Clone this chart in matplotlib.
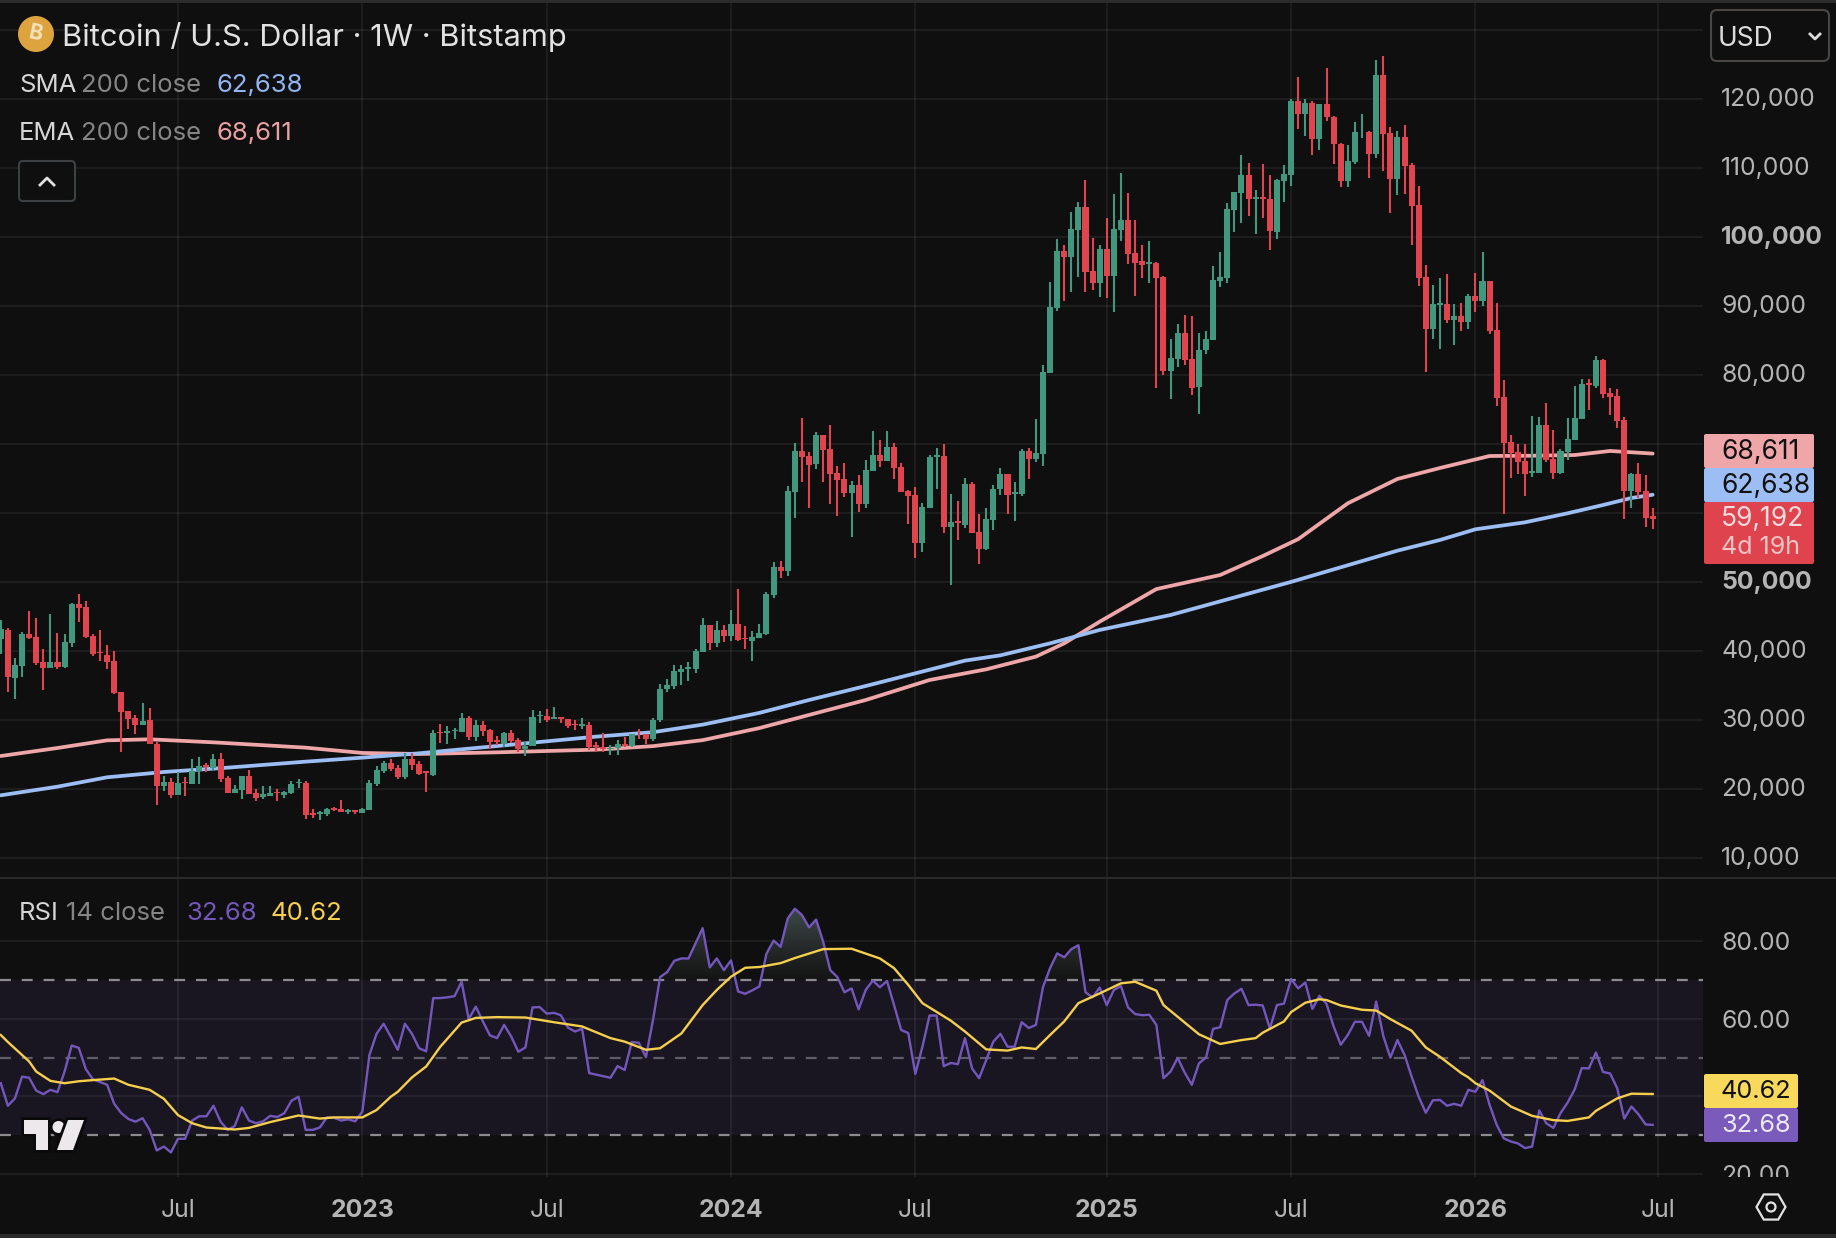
import numpy as np
import matplotlib
matplotlib.use('Agg')
import matplotlib.pyplot as plt
from matplotlib.colors import LinearSegmentedColormap
from matplotlib.patches import Circle, FancyBboxPatch, Polygon, Rectangle, RegularPolygon
from matplotlib.path import Path
from matplotlib.transforms import Bbox, ScaledTranslation
import matplotlib.patheffects as pe

plt.rcParams['font.family'] = ['Inter', 'DejaVu Sans']

# Weekly BTC/USD candles
opens = [
    41720, 43020, 36110, 37800, 42400, 42010, 38340, 37560, 38340, 37610,
    41190, 46790, 46360, 42150, 39830, 39400, 38530, 34030, 31280, 30260,
    29300, 29970, 26540, 20400, 20980, 19100, 20980, 20740, 22530, 23450,
    23010, 24320, 21560, 19430, 19820, 21850, 19340, 18850, 18950, 19530,
    19100, 19340, 20880, 20840, 16490, 16340, 16340, 17210, 17020, 16680,
    16870, 16530, 16920, 20690, 22620, 23740, 23010, 21710, 24320, 23590,
    22530, 22000, 28230, 28130, 28330, 28230, 30260, 27510, 29250, 28520,
    27070, 26490, 28090, 27070, 25770, 26200, 30500, 30550, 30120, 30410,
    30070, 29390, 29100, 29250, 26350, 26100, 25800, 25850, 26500, 26250,
    27950, 27900, 27150, 29970, 34470, 34900, 36980, 37420, 37370, 39880,
    43750, 41140, 43030, 42160, 43900, 41870, 41430, 41870, 42450, 48100,
    52160, 51580, 63040, 68980, 68260, 67100, 71300, 69270, 65790, 64920,
    62890, 64050, 61300, 66080, 68400, 67530, 69560, 66660, 63180, 62600,
    55640, 60720, 68110, 68260, 57960, 58780, 58250, 64200, 57240, 54770,
    58980, 63470, 65650, 62800, 62750, 68980, 67820, 68550, 80300, 89730,
    97990, 97120, 101040, 104370, 95090, 93350, 98280, 94370, 101040, 102490,
    97700, 96540, 96110, 96250, 94220, 80590, 82330, 86100, 82330, 78270,
    83630, 85080, 93640, 94080, 103940, 106400, 109010, 105530, 105820, 105530,
    100750, 108140, 109010, 119700, 117900, 119400, 114200, 119300, 117400, 113500,
    108140, 110900, 115300, 115300, 112060, 123510, 115100, 108430, 114520, 110460,
    104660, 94220, 86680, 90160, 90310, 87990, 88570, 87700, 91470, 90740,
    93640, 86540, 76820, 70290, 68840, 67530, 65790, 65790, 72760, 67820,
    65790, 68840, 70580, 73630, 78850, 78410, 82180, 77400, 76960, 73480,
    63180, 65650, 63180, 59560,
]
highs = [
    44470, 43360, 38920, 42730, 45730, 44760, 40220, 45340, 42540, 42400,
    46890, 48250, 47180, 42440, 42980, 40850, 39980, 34080, 31280, 30650,
    32440, 31660, 26730, 21850, 21560, 22380, 21710, 24320, 24610, 23690,
    25040, 25190, 21800, 20500, 21850, 22720, 19920, 20400, 20400, 19920,
    19720, 21130, 21370, 21130, 17070, 16820, 17210, 17310, 18370, 17110,
    16920, 17210, 21220, 23300, 24030, 24270, 23450, 25230, 25140, 24030,
    22580, 28520, 29340, 29100, 28760, 30990, 30550, 29970, 29830, 28670,
    27650, 28230, 28520, 27360, 26780, 31420, 31270, 31570, 31860, 30410,
    30120, 29970, 30260, 29630, 26730, 28100, 26400, 27000, 27500, 28000,
    28600, 28000, 30200, 35190, 35870, 37950, 37950, 38390, 40270, 44770,
    43750, 44330, 43750, 45930, 48970, 43600, 42880, 43900, 48540, 52890,
    53030, 63910, 70140, 73770, 68840, 71740, 71300, 72760, 66810, 67240,
    64630, 65500, 67680, 71880, 70580, 71880, 70140, 67240, 63330, 63760,
    61440, 68400, 69420, 70000, 62750, 61730, 65070, 64490, 59850, 60720,
    64050, 66520, 65650, 64490, 69270, 69420, 73630, 81460, 93500, 99730,
    98860, 103650, 105100, 108290, 99880, 98860, 102780, 106260, 109300, 106400,
    102490, 98860, 99440, 96400, 94370, 85230, 87400, 88710, 88570, 86100,
    86390, 95820, 97850, 104950, 106550, 111910, 110750, 106840, 110610, 109010,
    108430, 110460, 120000, 123200, 120000, 119700, 119300, 124500, 117600, 113700,
    113300, 116700, 117900, 115400, 125700, 126270, 115970, 115390, 116260, 110750,
    107420, 95960, 93060, 94080, 94660, 90310, 90450, 91760, 94800, 97850,
    93640, 90450, 79280, 71300, 70000, 70000, 74060, 73920, 75950, 72030,
    69280, 73770, 78410, 79430, 79430, 82760, 82330, 78120, 77980, 73920,
    65790, 67240, 65500, 60720,
]
lows = [
    39540, 34080, 33070, 36260, 41720, 37950, 34320, 37560, 37320, 37560,
    40560, 44180, 41910, 39300, 38530, 37420, 33740, 25380, 28720, 27990,
    29300, 26540, 17650, 19720, 18660, 19100, 19000, 20740, 20690, 22480,
    22720, 20980, 19390, 19430, 18560, 19240, 18270, 18560, 18950, 18270,
    18710, 19240, 20110, 15620, 15760, 15470, 16050, 16780, 16680, 16340,
    16340, 16530, 16920, 20450, 22340, 22620, 21420, 21420, 22720, 22000,
    19580, 21900, 26640, 26490, 27220, 28230, 27120, 26930, 27650, 25770,
    26300, 26060, 26640, 25330, 24800, 26200, 29540, 29680, 30120, 29540,
    28810, 28520, 28720, 25620, 25330, 25400, 24900, 24900, 26000, 26000,
    27200, 26550, 26950, 29730, 34040, 34470, 35050, 35630, 36790, 39880,
    40130, 40560, 41290, 41430, 41430, 40270, 38530, 41870, 42300, 47670,
    50570, 50860, 59270, 64490, 60720, 66370, 64490, 61300, 59560, 62310,
    56510, 60140, 60720, 66080, 66660, 67530, 64920, 63040, 58400, 53470,
    54340, 60720, 63470, 57090, 49550, 56080, 57820, 57090, 52600, 54630,
    57530, 62600, 59850, 58830, 62460, 64920, 67390, 66810, 80300, 89290,
    90740, 92050, 94220, 92050, 92340, 91320, 91180, 89150, 99440, 96110,
    91470, 94080, 93350, 78120, 80010, 76530, 81170, 81460, 77110, 74350,
    83050, 85080, 92770, 93350, 100750, 102050, 103070, 100460, 102780, 98140,
    99730, 105100, 107420, 115700, 114700, 111920, 112700, 116800, 110610, 107320,
    107320, 110610, 114400, 108580, 111480, 109640, 103500, 106110, 106260, 98860,
    92920, 80440, 85230, 83780, 87550, 84360, 86390, 86680, 89150, 90020,
    85960, 75510, 59850, 65070, 65650, 62460, 65210, 65790, 67390, 64920,
    65650, 67680, 70580, 73630, 74930, 78120, 76670, 74210, 72320, 59120,
    60720, 62170, 57960, 57670,
]
closes = [
    43120, 36260, 37950, 42400, 41820, 38240, 37560, 38340, 37660, 41280,
    46790, 46210, 42010, 39540, 39640, 38380, 33840, 31180, 30170, 29300,
    29830, 26540, 20450, 20980, 19100, 20840, 20790, 22580, 23300, 23160,
    24320, 21420, 19430, 19970, 21850, 19290, 18660, 19240, 19390, 19340,
    19530, 20690, 21030, 16200, 16240, 16630, 17070, 16920, 16680, 16920,
    16680, 17070, 20840, 22670, 23740, 22820, 21660, 24320, 23450, 22140,
    22340, 28090, 28040, 28330, 28520, 30260, 27510, 29250, 28380, 26780,
    26780, 28090, 26930, 25770, 26200, 30410, 30700, 29970, 30410, 30120,
    29100, 29200, 29390, 26060, 26110, 25800, 25850, 26500, 26250, 27950,
    27900, 27150, 29950, 34470, 35050, 37080, 37370, 37610, 40030, 43750,
    41140, 43030, 42160, 43900, 41580, 41670, 42010, 42590, 48250, 52160,
    51580, 63180, 68980, 68110, 66950, 71300, 69130, 65650, 64780, 62890,
    64050, 61300, 66230, 68400, 67530, 69560, 66520, 63040, 62460, 55640,
    60860, 68110, 68400, 57960, 58690, 58590, 64200, 57090, 54770, 59120,
    63470, 65650, 62600, 63040, 68980, 67820, 68690, 80440, 89870, 97990,
    97120, 101180, 104370, 94950, 93350, 98280, 94370, 101180, 102490, 97560,
    96250, 95960, 96400, 94080, 80590, 82470, 86100, 82180, 78120, 83630,
    85230, 93790, 94220, 104080, 106550, 109010, 105530, 105820, 105530, 100890,
    108290, 109160, 119700, 117900, 119400, 114200, 119300, 117400, 113500, 108140,
    111040, 115300, 115300, 112060, 123500, 115010, 108430, 114520, 110320, 104520,
    94080, 86680, 90310, 90450, 87990, 88570, 87700, 91470, 90740, 93640,
    86390, 76670, 70150, 68700, 67390, 65650, 66080, 72760, 67680, 65790,
    68990, 70730, 73770, 78700, 78560, 82180, 77250, 76820, 73340, 63180,
    65650, 63040, 59270, 59192,
]

# Moving averages, read at the listed week numbers
sma_weeks = [0, 8, 15, 23, 32, 43, 51, 59, 70, 84, 92, 99, 107, 114, 122, 129, 136, 141, 148, 155,
             165, 182, 197, 203, 208, 215, 221, 226, 230, 233]
sma_values = [19050, 20300, 21660, 22430, 23060, 23930, 24510, 25140, 26200, 27560, 28200, 29300,
              31000, 32870, 34900, 36740, 38580, 39350, 41090, 43030, 45200, 50000, 54530, 56080,
              57630, 58640, 59950, 61150, 62170, 62638]
ema_weeks = [0, 8, 15, 21, 30, 43, 51, 59, 70, 84, 92, 99, 107, 122, 131, 139, 146, 150, 155, 163,
             172, 178, 183, 190, 197, 203, 210, 216, 222, 227, 233]
ema_values = [24750, 25910, 27020, 27170, 26730, 25960, 25190, 25040, 25280, 25670, 26180, 27050,
              28800, 32870, 35770, 37320, 39160, 41090, 44230, 48960, 51000, 53750, 56200, 61400,
              64930, 66520, 68260, 68300, 68400, 68990, 68611]

# RSI 14, one value per week
rsi_values = [
    43.4, 37.6, 39.5, 45.1, 44.8, 41.5, 40.6, 41.7, 41.1, 46.4,
    53.1, 52.5, 47.0, 44.4, 43.7, 43.0, 38.1, 35.7, 34.2, 33.5,
    34.4, 31.4, 26.1, 27.1, 25.6, 29.1, 29.1, 33.8, 34.9, 34.9,
    37.6, 33.5, 31.4, 32.4, 37.2, 33.8, 33.1, 33.6, 35.0, 34.7,
    35.7, 38.9, 39.9, 31.4, 31.4, 32.0, 34.6, 34.5, 33.8, 34.1,
    33.6, 36.1, 50.7, 56.1, 58.7, 55.4, 52.0, 58.7, 56.1, 52.4,
    51.6, 65.3, 65.3, 65.5, 65.8, 69.5, 59.9, 63.1, 59.3, 55.7,
    55.0, 58.4, 55.4, 51.5, 52.6, 62.9, 63.0, 61.3, 61.5, 60.9,
    57.7, 56.7, 57.4, 46.0, 45.6, 45.2, 44.8, 47.8, 46.8, 54.0,
    53.8, 50.1, 59.7, 70.7, 72.0, 74.9, 75.5, 75.5, 79.4, 83.3,
    73.2, 75.5, 72.5, 75.0, 67.0, 66.4, 67.3, 68.3, 76.7, 80.1,
    78.5, 85.8, 88.3, 86.7, 83.5, 85.5, 79.8, 72.5, 70.7, 66.8,
    67.8, 62.4, 67.4, 69.8, 68.1, 69.7, 63.5, 57.1, 56.3, 45.8,
    52.8, 60.8, 60.8, 47.8, 48.6, 48.3, 55.0, 47.2, 44.7, 49.4,
    54.1, 56.1, 52.8, 52.8, 59.1, 57.6, 58.4, 68.1, 73.0, 76.8,
    75.8, 77.9, 78.9, 66.8, 65.5, 68.0, 63.5, 67.4, 68.4, 62.9,
    61.2, 60.9, 61.0, 58.4, 44.7, 46.4, 49.9, 46.1, 43.0, 48.5,
    50.0, 57.4, 57.8, 64.8, 66.5, 67.7, 63.5, 63.6, 63.4, 57.5,
    63.5, 63.9, 70.2, 67.8, 69.3, 62.5, 65.9, 63.8, 58.0, 53.3,
    55.8, 59.2, 59.2, 55.6, 64.4, 55.6, 50.0, 54.5, 50.7, 45.1,
    39.9, 35.8, 39.0, 39.1, 37.6, 38.1, 37.6, 41.7, 41.2, 44.2,
    37.8, 32.7, 29.2, 28.4, 27.9, 26.7, 27.1, 36.4, 33.1, 31.9,
    35.7, 38.4, 41.8, 47.3, 47.2, 51.3, 46.3, 45.9, 42.1, 34.3,
    37.4, 35.4, 32.8, 32.68,
]
# RSI moving average
rsi_ma_weeks = [0, 1, 4, 5, 7, 9, 11, 13, 16, 18, 21, 23, 25, 27, 29, 33, 35, 38, 42, 45, 47, 51, 53,
                55, 56, 58, 60, 62, 65, 67, 70, 74, 78, 82, 86, 88, 91, 93, 96, 99, 101, 103, 105,
                107, 110, 112, 116, 120, 124, 126, 128, 130, 134, 136, 139, 142, 144, 146, 148, 150,
                152, 155, 158, 160, 163, 164, 169, 172, 175, 177, 178, 181, 182, 184, 186, 187, 189,
                192, 194, 196, 199, 201, 203, 206, 207, 208, 210, 213, 216, 219, 221, 224, 225, 228,
                230, 233]
rsi_ma_values = [55.8, 54.0, 49.0, 46.4, 44.0, 43.4, 43.9, 44.2, 44.6, 43.0, 41.7, 39.4, 35.2, 33.1,
                 32.0, 31.5, 31.9, 33.4, 35.1, 34.3, 34.6, 34.6, 36.5, 39.9, 41.2, 44.9, 47.7, 52.8,
                 59.0, 60.2, 60.4, 60.3, 59.1, 58.0, 55.0, 54.1, 52.0, 52.4, 56.2, 63.5, 67.4, 70.8,
                 73.1, 73.3, 74.3, 75.6, 77.9, 78.0, 75.5, 73.0, 68.7, 64.0, 59.5, 56.7, 52.1, 51.8,
                 52.6, 52.2, 55.8, 59.3, 64.0, 66.5, 69.1, 69.5, 67.2, 63.5, 56.0, 53.5, 54.5, 55.0,
                 56.4, 59.3, 61.7, 64.1, 65.0, 64.8, 63.4, 62.3, 62.1, 59.9, 56.9, 52.6, 50.2, 46.0,
                 44.9, 43.4, 41.5, 37.4, 35.0, 33.9, 33.7, 34.6, 36.3, 39.5, 40.7, 40.62]

# Axis ticks; gridlines at every tick, labels skipped where a value box sits
price_ticks = [10000 * n for n in range(1, 14)]
hidden_prices = [60000, 70000, 130000]
bold_prices = [50000, 100000]
rsi_ticks = [20, 40, 60, 80]
hidden_rsi = [40]
time_ticks = [25, 51, 77, 103, 129, 156, 182, 208, 233.7]
time_labels = ['Jul', '2023', 'Jul', '2024', 'Jul', '2025', 'Jul', '2026', 'Jul']

BG = '#0f0f0f'
UP = '#42977f'
DOWN = '#e0454f'
SMA_COL = '#9dbef4'
EMA_COL = '#efa6a9'
RSI_COL = '#7357bd'
MA_COL = '#f6cf4c'
TICK_COL = '#b4b4b4'
W, H = 1836, 1238


def pane(top, bottom, right=1703):
    # axes placed by pixel rows and columns
    return fig.add_axes([0, 1 - bottom / H, right / W, (bottom - top) / H], facecolor=BG)


fig = plt.figure(figsize=(W / 100, H / 100), dpi=100, facecolor=BG)

week = np.arange(len(closes))
op, hi, lo, cl = map(np.array, (opens, highs, lows, closes))
rsi = np.array(rsi_values)
x_left, x_right = -0.11, 240.1

# price pane
ax = pane(3, 877)
ax.set_xlim(x_left, x_right)
ax.set_ylim(7200, 133960)
ax.plot(ema_weeks, ema_values, color=EMA_COL, lw=2.7, zorder=2, solid_capstyle='round')
ax.plot(sma_weeks, sma_values, color=SMA_COL, lw=2.7, zorder=2, solid_capstyle='round')
colors = np.where(cl >= op, UP, DOWN)
ax.vlines(week, lo, hi, colors=colors, lw=1.5, zorder=3)
ax.bar(week, np.abs(cl - op), bottom=np.minimum(op, cl), width=0.85, color=colors, zorder=3,
       linewidth=0, antialiased=False)
ax.set_yticks(price_ticks)
ax.set_yticklabels(['' if p in hidden_prices else f'{p:,}' for p in price_ticks])
ax.set_xticks(time_ticks)
ax.tick_params(axis='x', length=0, labelbottom=False)

# RSI pane
ax2 = pane(878, 1177)
ax2.set_xlim(x_left, x_right)
ax2.axhspan(30, 70, color='#7e57c2', alpha=0.1, lw=0, zorder=0.2)
ob = ax2.fill_between(week, rsi, 70, where=rsi > 70, interpolate=True, alpha=0)
shade = LinearSegmentedColormap.from_list('ob', ['#3f4f4c', '#2a2e2e', '#141414'])
im = ax2.imshow(np.linspace(0, 1, 64)[:, None], extent=[x_left, x_right, 70, 90], cmap=shade,
                aspect='auto', origin='upper', zorder=1)
im.set_clip_path(Path.make_compound_path(*ob.get_paths()), transform=ax2.transData)
ax2.fill_between(week, rsi, 30, where=rsi < 30, interpolate=True, color='#171717', lw=0, zorder=1)
for level, col in [(70, '#8d8b92'), (50, '#5f5d66'), (30, '#8d8b92')]:
    ax2.axhline(level, color=col, lw=1.6, ls=(0, (4.9, 4.9)), zorder=1.5)
ax2.plot(week, rsi, color=RSI_COL, lw=1.7, zorder=3)
ax2.plot(rsi_ma_weeks, rsi_ma_values, color=MA_COL, lw=1.7, zorder=4)
ax2.set_ylim(19.27, 96.2)
ax2.set_yticks(rsi_ticks)
ax2.set_yticklabels(['' if v in hidden_rsi else f'{v:.2f}' for v in rsi_ticks])
ax2.set_xticks(time_ticks)
ax2.set_xticklabels(time_labels)
for label, text in zip(ax2.get_xticklabels(), time_labels):
    if text != 'Jul':
        label.set_fontweight('bold')
ax2.tick_params(axis='x', length=0, pad=15.5, labelsize=17.8, labelcolor=TICK_COL)

for a in (ax, ax2):
    a.grid(True, color='white', alpha=0.06, lw=1.44)
    a.set_axisbelow(True)
    for s in a.spines.values():
        s.set_visible(False)
    a.yaxis.tick_right()
    a.tick_params(axis='y', length=0, pad=13, labelsize=17.8, labelcolor=TICK_COL)

# round thousands in bold, price labels sit just above their gridline
nudge = ScaledTranslation(0, 2 / 100, fig.dpi_scale_trans)
for label, p in zip(ax.get_yticklabels(), price_ticks):
    label.set_transform(label.get_transform() + nudge)
    if p in bold_prices:
        label.set_fontweight('bold')
# the lowest RSI label is cut by the pane edge
for label in ax2.get_yticklabels():
    label.set_clip_box(Bbox([[0, H - 1177], [W, H]]))
    label.set_clip_on(True)

# header, value boxes and logos sit on a pixel-sized overlay
ov = fig.add_axes([0, 0, 1, 1], facecolor='none', zorder=5)
ov.set_xlim(0, W)
ov.set_ylim(H, 0)
ov.axis('off')

ov.add_patch(Rectangle((0, 0), W, 2.5, color='#2c2c2c', lw=0))
ov.add_patch(Rectangle((0, 1234), W, 4, color='#2c2c2c', lw=0))
ov.add_patch(Rectangle((0, 877), W, 1.6, color='#2a2a2a', lw=0))

ov.add_patch(Circle((36, 34), 18, color='#dca33e', lw=0))
ov.text(36, 34, 'B', color='#f3e3bd', fontsize=15, fontweight='bold', rotation=-12, ha='center', va='center')
ov.text(62, 37, 'Bitcoin / U.S. Dollar · 1W · Bitstamp', color='#e2e2e2', fontsize=22.2, va='center')

ov.text(19, 85, 'SMA', color='#d6d6d6', fontsize=18.5, va='center')
ov.text(81, 85, '200 close', color='#858585', fontsize=18.5, va='center')
ov.text(217, 85, '62,638', color='#93b5f0', fontsize=18.5, va='center')
ov.text(19, 133, 'EMA', color='#d6d6d6', fontsize=18.5, va='center')
ov.text(81, 133, '200 close', color='#858585', fontsize=18.5, va='center')
ov.text(217, 133, '68,611', color='#eba0a4', fontsize=18.5, va='center')

ov.add_patch(FancyBboxPatch((19, 161), 56, 40, boxstyle='round,pad=0,rounding_size=4', fc=BG, ec='#3c4042', lw=1.5))
ov.plot([40, 47, 54], [185, 178, 185], color='#e0e0e0', lw=2)

ov.add_patch(FancyBboxPatch((1711, 10), 118, 51, boxstyle='round,pad=0,rounding_size=6', fc=BG, ec='#4a4644', lw=1.5))
ov.text(1718, 39, 'USD', color='#dcdcdc', fontsize=19, va='center')
ov.plot([1810, 1815, 1820], [34, 39, 34], color='#dcdcdc', lw=2)


def value_box(top, bottom, right, fill, lines):
    ov.add_patch(FancyBboxPatch((1704, top), right - 1704, bottom - top,
                                boxstyle='round,pad=0,rounding_size=2', fc=fill, lw=0))
    for text, y, size, col in lines:
        ov.text(1721, y, text, color=col, fontsize=size, va='center')


value_box(434, 468, 1814, '#efa6a9', [('68,611', 452, 19, '#111111')])
value_box(468, 502, 1814, '#9dbef4', [('62,638', 486, 19, '#111111')])
value_box(502, 564, 1814, '#df444e', [('59,192', 519, 19, '#f6dcdc'), ('4d 19h', 547, 18, '#f2c4c4')])
value_box(1074, 1108, 1798, '#f8d95c', [('40.62', 1092, 18.2, '#111111')])
value_box(1108, 1142, 1798, '#7a5bbc', [('32.68', 1126, 18.2, '#ece8f4')])

ov.text(19, 914, 'RSI', color='#d6d6d6', fontsize=18.5, va='center')
ov.text(66, 914, '14 close', color='#858585', fontsize=18.5, va='center')
ov.text(186, 914, '32.68', color='#7357bd', fontsize=18.5, va='center')
ov.text(270, 914, '40.62', color='#f6cf4c', fontsize=18.5, va='center')

# TradingView mark
halo = [pe.Stroke(linewidth=4, foreground='#0a0a0a'), pe.Normal()]
mark = '#ece8ec'
for shape in (Polygon([(24, 1120), (48, 1120), (48, 1150), (36, 1150), (36, 1134), (24, 1134)], fc=mark, lw=0),
              Circle((58.5, 1127), 6, fc=mark, lw=0),
              Polygon([(68, 1120), (84, 1120), (73, 1150), (57, 1150)], fc=mark, lw=0)):
    shape.set_path_effects(halo)
    ov.add_patch(shape)

# settings icon
ov.add_patch(RegularPolygon((1771, 1207), 6, radius=14.5, orientation=np.pi / 2, fc='none', ec='#e2e2e2', lw=1.6))
ov.add_patch(Circle((1771, 1207), 4.5, fc='none', ec='#e2e2e2', lw=1.6))

fig.savefig('out.png', dpi=100, facecolor=BG)
